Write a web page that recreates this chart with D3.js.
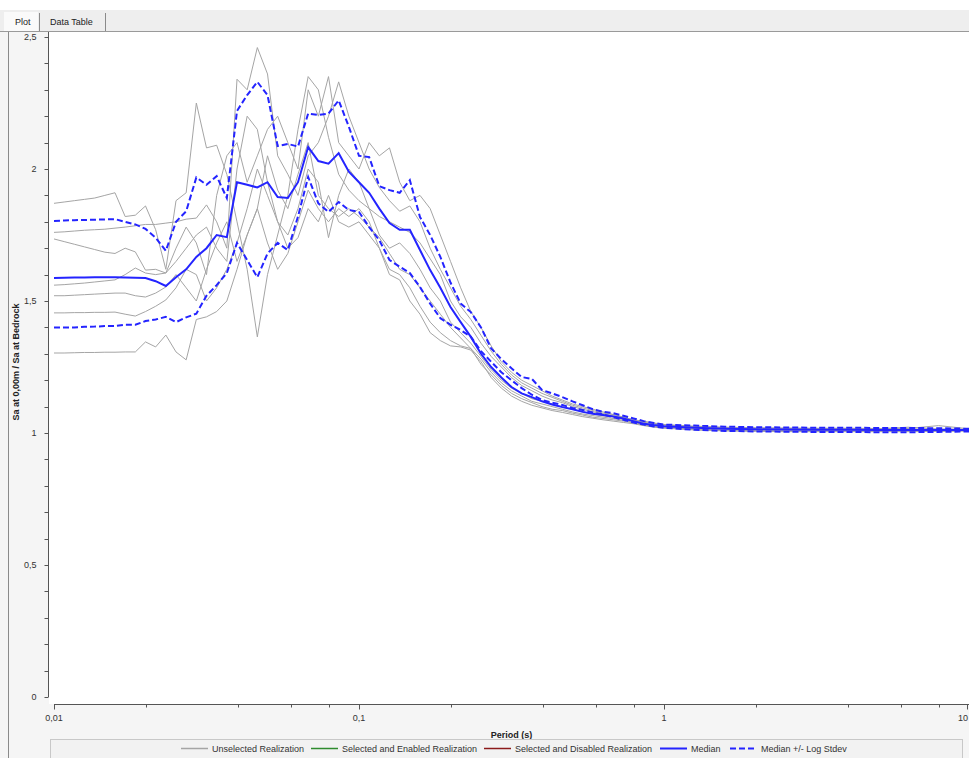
<!DOCTYPE html>
<html><head><meta charset="utf-8">
<script src="https://cdn.jsdelivr.net/npm/d3@7"></script>
<style>body{margin:0;background:#fff;}svg{display:block}text{font-family:"Liberation Sans",Arial,sans-serif;}</style>
</head><body><svg id="c" width="969" height="758"></svg>
<script>
// Period grid (s)
const periods = [0.01,0.010798,0.011659,0.012589,0.013594,0.014678,0.015849,0.017113,0.018478,0.019953,
0.021544,0.023263,0.025119,0.027123,0.029286,0.031623,0.034146,0.036869,0.039811,0.042987,
0.046416,0.050119,0.054117,0.058434,0.063096,0.068129,0.073564,0.079433,0.08577,0.092612,
0.1,0.10798,0.11659,0.12589,0.13594,0.14678,0.15849,0.17113,0.18478,0.19953,
0.21544,0.23263,0.25119,0.27123,0.29286,0.31623,0.34146,0.36869,0.39811,0.42987,
0.46416,0.50119,0.54117,0.58434,0.63096,0.68129,0.73564,0.79433,0.8577,0.92612,
1,1.2589,1.5849,1.9953,2.5119,3.1623,3.9811,5.0119,6.3096,7.9433,10];

const median = [1.587,1.588,1.589,1.589,1.59,1.59,1.59,1.589,1.588,1.587,
1.575,1.557,1.59,1.62,1.667,1.70,1.75,1.742,1.95,1.94,
1.93,1.95,1.894,1.89,1.95,2.083,2.03,2.02,2.06,1.99,
1.95,1.91,1.85,1.795,1.77,1.77,1.693,1.617,1.55,1.477,
1.42,1.364,1.30,1.25,1.21,1.174,1.15,1.136,1.12,1.108,
1.098,1.09,1.08,1.073,1.068,1.063,1.055,1.045,1.035,1.03,
1.026,1.02,1.016,1.014,1.013,1.012,1.012,1.011,1.011,1.011,1.011];

const upper = [1.803,1.805,1.806,1.807,1.808,1.809,1.81,1.80,1.79,1.773,
1.74,1.69,1.80,1.84,1.968,1.94,1.973,1.89,2.22,2.28,
2.33,2.28,2.087,2.095,2.085,2.21,2.205,2.21,2.26,2.16,
2.05,2.045,1.935,1.92,1.91,1.958,1.818,1.75,1.667,1.57,
1.49,1.458,1.40,1.32,1.28,1.245,1.212,1.205,1.163,1.15,
1.136,1.12,1.105,1.09,1.08,1.075,1.065,1.055,1.045,1.038,
1.032,1.028,1.024,1.022,1.021,1.02,1.02,1.019,1.019,1.018,1.016];

const lower = [1.40,1.40,1.40,1.402,1.403,1.405,1.405,1.41,1.41,1.424,
1.43,1.44,1.42,1.438,1.452,1.52,1.56,1.606,1.72,1.655,
1.59,1.68,1.72,1.693,1.82,1.97,1.87,1.837,1.875,1.845,
1.837,1.78,1.73,1.655,1.63,1.606,1.553,1.49,1.435,1.41,
1.39,1.365,1.31,1.27,1.23,1.20,1.17,1.145,1.125,1.115,
1.106,1.095,1.087,1.078,1.07,1.06,1.05,1.04,1.032,1.025,
1.02,1.012,1.008,1.006,1.005,1.004,1.004,1.003,1.003,1.004,1.006];

const real1 = [1.87,1.875,1.88,1.885,1.89,1.90,1.91,1.82,1.825,1.86,
1.77,1.62,1.88,1.91,2.25,2.08,2.09,1.98,1.80,1.62,
1.364,1.60,1.75,1.90,2.15,2.35,2.30,2.12,1.98,1.92,
1.88,1.85,1.82,1.80,1.78,1.76,1.72,1.66,1.60,1.50,
1.44,1.40,1.34,1.29,1.25,1.21,1.18,1.16,1.14,1.125,
1.115,1.10,1.09,1.08,1.072,1.065,1.058,1.05,1.04,1.035,
1.03,1.022,1.018,1.016,1.015,1.015,1.014,1.016,1.022,1.015,1.014];
const real2 = [1.76,1.762,1.765,1.768,1.77,1.772,1.776,1.78,1.785,1.79,
1.79,1.795,1.80,1.81,1.814,1.864,1.80,1.70,2.34,2.30,
2.46,2.36,2.05,1.98,1.90,2.05,2.10,2.20,2.33,2.20,
2.10,2.00,1.93,1.88,1.84,1.86,1.80,1.70,1.62,1.55,
1.48,1.43,1.37,1.31,1.26,1.22,1.19,1.17,1.15,1.135,
1.12,1.105,1.095,1.085,1.075,1.07,1.06,1.05,1.04,1.035,
1.03,1.024,1.02,1.018,1.017,1.016,1.016,1.015,1.015,1.014,1.014];
const real3 = [1.735,1.725,1.715,1.705,1.695,1.685,1.68,1.70,1.686,1.617,
1.62,1.606,1.70,1.78,1.72,1.60,1.90,2.05,2.10,1.95,
2.05,2.15,2.20,2.10,2.00,2.30,2.20,2.35,2.10,2.05,
2.00,2.10,2.05,2.08,1.95,1.88,1.90,1.85,1.75,1.65,
1.55,1.46,1.40,1.33,1.27,1.23,1.20,1.18,1.16,1.14,
1.125,1.11,1.10,1.09,1.08,1.07,1.06,1.05,1.045,1.038,
1.032,1.026,1.022,1.02,1.019,1.018,1.018,1.017,1.017,1.028,1.016];
const real4 = [1.56,1.562,1.565,1.568,1.572,1.576,1.58,1.60,1.625,1.606,
1.60,1.606,1.65,1.70,1.75,1.78,1.70,1.65,2.00,2.20,
2.15,1.95,1.80,1.75,1.85,2.00,1.95,1.74,1.90,2.00,
1.95,1.85,1.75,1.70,1.72,1.68,1.62,1.55,1.50,1.42,
1.38,1.34,1.29,1.24,1.20,1.17,1.15,1.13,1.12,1.11,
1.10,1.09,1.08,1.072,1.065,1.06,1.052,1.045,1.035,1.03,
1.025,1.018,1.014,1.012,1.011,1.01,1.01,1.01,1.01,1.01,1.01];
const real5 = [1.52,1.52,1.522,1.524,1.526,1.528,1.53,1.53,1.52,1.515,
1.53,1.553,1.60,1.55,1.50,1.62,1.72,1.80,1.65,1.75,
1.85,2.05,1.92,1.85,1.98,2.10,1.90,1.85,1.82,1.85,
1.82,1.78,1.74,1.68,1.62,1.60,1.55,1.50,1.45,1.40,
1.36,1.32,1.28,1.23,1.19,1.16,1.14,1.12,1.11,1.10,
1.09,1.08,1.072,1.066,1.06,1.055,1.048,1.04,1.032,1.027,
1.022,1.015,1.011,1.009,1.008,1.008,1.007,1.007,1.007,1.008,1.008];
const real6 = [1.455,1.455,1.456,1.456,1.457,1.457,1.458,1.45,1.443,1.46,
1.48,1.504,1.55,1.62,1.60,1.50,1.55,1.62,1.72,1.85,
2.00,1.90,1.80,1.70,1.74,1.85,1.80,1.90,1.80,1.78,
1.80,1.75,1.70,1.62,1.60,1.55,1.48,1.42,1.38,1.35,
1.33,1.32,1.26,1.22,1.18,1.15,1.13,1.115,1.10,1.09,
1.085,1.075,1.068,1.06,1.055,1.05,1.045,1.038,1.03,1.025,
1.02,1.012,1.008,1.006,1.005,1.005,1.005,1.005,1.005,1.006,1.008];
const real7 = [1.303,1.303,1.304,1.305,1.305,1.306,1.306,1.307,1.307,1.345,
1.326,1.371,1.307,1.277,1.43,1.44,1.46,1.50,1.62,1.75,
1.85,1.72,1.62,1.68,1.80,1.92,1.85,1.80,1.85,1.82,
1.85,1.80,1.70,1.60,1.58,1.50,1.45,1.38,1.35,1.33,
1.326,1.314,1.27,1.21,1.17,1.14,1.12,1.105,1.095,1.085,
1.078,1.07,1.062,1.056,1.05,1.045,1.04,1.035,1.028,1.022,
1.018,1.012,1.009,1.008,1.008,1.008,1.008,1.008,1.009,1.01,1.01];
const realizations = [real1, real2, real3, real4, real5, real6, real7];

const yTicks = [0, 0.5, 1, 1.5, 2, 2.5];
const yTickLabels = ["0", "0,5", "1", "1,5", "2", "2,5"];
const xTicks = [0.01, 0.1, 1, 10];
const xTickLabels = ["0,01", "0,1", "1", "10"];
const legendItems = ["Unselected Realization", "Selected and Enabled Realization", "Selected and Disabled Realization", "Median", "Median +/- Log Stdev"];
const legendColors = ["#a5a5a5", "#2e8b2e", "#8b1a1a", "#2424ff", "#2424ff"];

const W = 969, H = 758;
const svg = d3.select("#c");

// panel backgrounds
svg.append("rect").attr("width", W).attr("height", H).attr("fill", "#f5f5f5");
svg.append("rect").attr("x", 0).attr("y", 0).attr("width", W).attr("height", 10).attr("fill", "#ffffff");
svg.append("rect").attr("x", 0).attr("y", 10).attr("width", W).attr("height", 21).attr("fill", "#eeeeee");
svg.append("rect").attr("x", 4).attr("y", 12).attr("width", 34).attr("height", 20).attr("fill", "#fafafa");
svg.append("line").attr("x1", 0).attr("x2", W).attr("y1", 31.5).attr("y2", 31.5).attr("stroke", "#9a9a9a");
svg.append("line").attr("x1", 39.5).attr("x2", 39.5).attr("y1", 13).attr("y2", 31).attr("stroke", "#8a8a8a");
svg.append("line").attr("x1", 105.5).attr("x2", 105.5).attr("y1", 13).attr("y2", 31).attr("stroke", "#8a8a8a");
svg.append("text").attr("x", 15).attr("y", 25).attr("font-size", 9).attr("fill", "#222").text("Plot");
svg.append("text").attr("x", 50).attr("y", 25).attr("font-size", 9).attr("fill", "#222").text("Data Table");
svg.append("line").attr("x1", 8.5).attr("x2", 8.5).attr("y1", 32).attr("y2", H).attr("stroke", "#8a8a8a");

// data area
svg.append("rect").attr("x", 49).attr("y", 32).attr("width", W - 49).attr("height", 672).attr("fill", "#ffffff");

const x = d3.scaleLog().domain([0.01, 10]).range([54, 969]);
const y = d3.scaleLinear().domain([0, 2.5]).range([697, 37]);

// y axis
const yAx = svg.append("g").attr("transform", "translate(48.5,0)");
yAx.append("line").attr("y1", 32).attr("y2", 697).attr("stroke", "#555");
const yMinor = d3.range(0, 26).map(i => i / 10);
yAx.selectAll("line.mt").data(yMinor).join("line").attr("class", "mt")
  .attr("x1", -4).attr("x2", 0).attr("y1", d => Math.round(y(d)) + 0.5).attr("y2", d => Math.round(y(d)) + 0.5).attr("stroke", "#555");
yAx.selectAll("text").data(yTicks).join("text")
  .attr("x", -12).attr("y", d => y(d) + 3).attr("text-anchor", "end").attr("font-size", 9).attr("fill", "#333")
  .text((d, i) => yTickLabels[i]);

// x axis
const xAx = svg.append("g").attr("transform", "translate(0,704.5)");
xAx.append("line").attr("x1", 54).attr("x2", W).attr("stroke", "#555");
const xMinor = [];
[0.01, 0.1, 1].forEach(dec => [2, 4, 6, 8].forEach(m => xMinor.push(dec * m)));
xAx.selectAll("line.mn").data(xMinor).join("line").attr("class", "mn")
  .attr("x1", d => Math.round(x(d)) + 0.5).attr("x2", d => Math.round(x(d)) + 0.5).attr("y1", 0).attr("y2", 3).attr("stroke", "#555");
xAx.selectAll("line.mj").data(xTicks).join("line").attr("class", "mj")
  .attr("x1", d => Math.min(Math.round(x(d)) + 0.5, W - 1.5)).attr("x2", d => Math.min(Math.round(x(d)) + 0.5, W - 1.5)).attr("y1", 0).attr("y2", 5).attr("stroke", "#555");
xAx.selectAll("text").data(xTicks).join("text")
  .attr("x", d => d === 10 ? W - 1 : x(d)).attr("y", 16)
  .attr("text-anchor", d => d === 10 ? "end" : "middle").attr("font-size", 9).attr("fill", "#333")
  .text((d, i) => xTickLabels[i]);

// axis titles
svg.append("text").attr("x", (54 + W) / 2).attr("y", 738).attr("text-anchor", "middle")
  .attr("font-size", 9).attr("font-weight", "bold").attr("fill", "#222").text("Period (s)");
svg.append("text").attr("transform", "translate(19,362) rotate(-90)").attr("text-anchor", "middle")
  .attr("font-size", 9).attr("font-weight", "bold").attr("fill", "#222").text("Sa at 0,00m / Sa at Bedrock");

// lines
const plot = svg.append("g");
const lineGen = vals => d3.line().x((d, i) => x(periods[i])).y(d => y(d))(vals);
plot.selectAll("path.real").data(realizations).join("path").attr("class", "real")
  .attr("d", d => lineGen(d)).attr("fill", "none").attr("stroke", "#a5a5a5").attr("stroke-width", 1);
[upper, lower].forEach(v => plot.append("path").attr("d", lineGen(v)).attr("fill", "none")
  .attr("stroke", "#2424ff").attr("stroke-width", 2).attr("stroke-dasharray", "6,3"));
plot.append("path").attr("d", lineGen(median)).attr("fill", "none").attr("stroke", "#2424ff").attr("stroke-width", 2);

// legend
svg.append("rect").attr("x", 50.5).attr("y", 739.5).attr("width", 912).attr("height", 19).attr("fill", "#f2f2f2").attr("stroke", "#c8c8c8");
const legX = [181, 311, 484, 660, 730];
legendItems.forEach((t, i) => {
  const g = svg.append("g").attr("transform", `translate(${legX[i]},748.5)`);
  g.append("line").attr("x1", 0).attr("x2", 27).attr("stroke", legendColors[i]).attr("stroke-width", i >= 3 ? 2 : 1.5)
    .attr("stroke-dasharray", i === 4 ? "6,3" : null);
  g.append("text").attr("x", 31).attr("y", 3).attr("font-size", 9).attr("fill", "#333").text(t);
});
</script></body></html>
